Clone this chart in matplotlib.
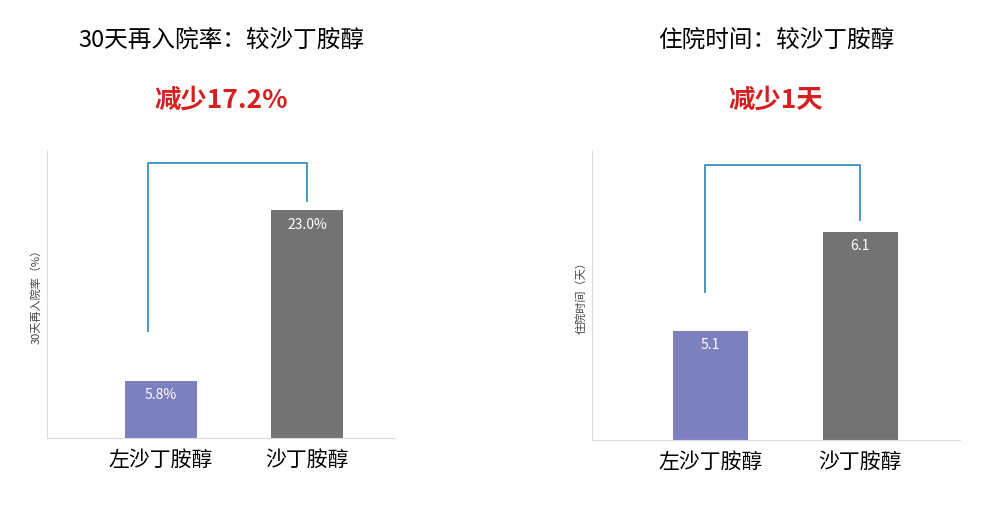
import matplotlib
matplotlib.use("Agg")
import matplotlib.pyplot as plt

plt.rcParams['font.family'] = ['Noto Sans CJK SC', 'DejaVu Sans']

categories = ["左沙丁胺醇", "沙丁胺醇"]
readmit = [5.8, 23.0]
readmit_labels = ["5.8%", "23.0%"]
stay = [5.1, 6.1]
stay_labels = ["5.1", "6.1"]
colors = ["#7d80bf", "#737373"]
W, H = 1002, 508

fig = plt.figure(figsize=(10.02, 5.08), dpi=100)

def make(x0, x1, yb, yt, vals, labels, ylim, bracket, bx, title, sub, ylabel, centers, width):
    ax = fig.add_axes([x0 / W, 1 - yb / H, (x1 - x0) / W, (yb - yt) / H])
    ax.bar(centers, [v - ylim[0] for v in vals], bottom=ylim[0], width=width, color=colors)
    for c, v, l in zip(centers, vals, labels):
        ax.text(c, v - (ylim[1] - ylim[0]) * 0.025, l, ha='center', va='top', color='white', fontsize=10)
    ax.set_xlim(-0.2, 3.2)
    ax.set_ylim(*ylim)
    ax.set_xticks(centers)
    ax.set_xticklabels(categories, fontsize=15)
    ax.tick_params(length=0, pad=8)
    ax.set_yticks([])
    for s in ['top', 'right']:
        ax.spines[s].set_visible(False)
    for s in ['left', 'bottom']:
        ax.spines[s].set_color('#dddddd')
    ax.set_ylabel(ylabel, fontsize=8, color='#444444')
    yl, ytop, yr = bracket
    ax.plot([bx, bx, centers[1], centers[1]], [yl, ytop, ytop, yr],
            color='#3b8dc0', lw=1.3, clip_on=False)
    ax.text(0.5, (yb - 40) / (yb - yt), title, transform=ax.transAxes,
            ha='center', va='center', fontsize=17)
    ax.text(0.5, (yb - 100) / (yb - yt), sub, transform=ax.transAxes,
            ha='center', va='center', fontsize=19, fontweight='bold', color='#d42020')
    return ax

make(47, 395, 438, 150, readmit, readmit_labels, (0, 29.1), (10.8, 27.8, 23.9), 0.79,
     "30天再入院率：较沙丁胺醇", "减少17.2%", "30天再入院率（%）", [0.914, 2.34], 0.70)
make(592, 960, 440, 150, stay, stay_labels, (4.0, 6.93), (5.5, 6.78, 6.22), 0.845,
     "住院时间：较沙丁胺醇", "减少1天", "住院时间（天）", [0.895, 2.28], 0.69)

fig.savefig("out.png", dpi=100)
